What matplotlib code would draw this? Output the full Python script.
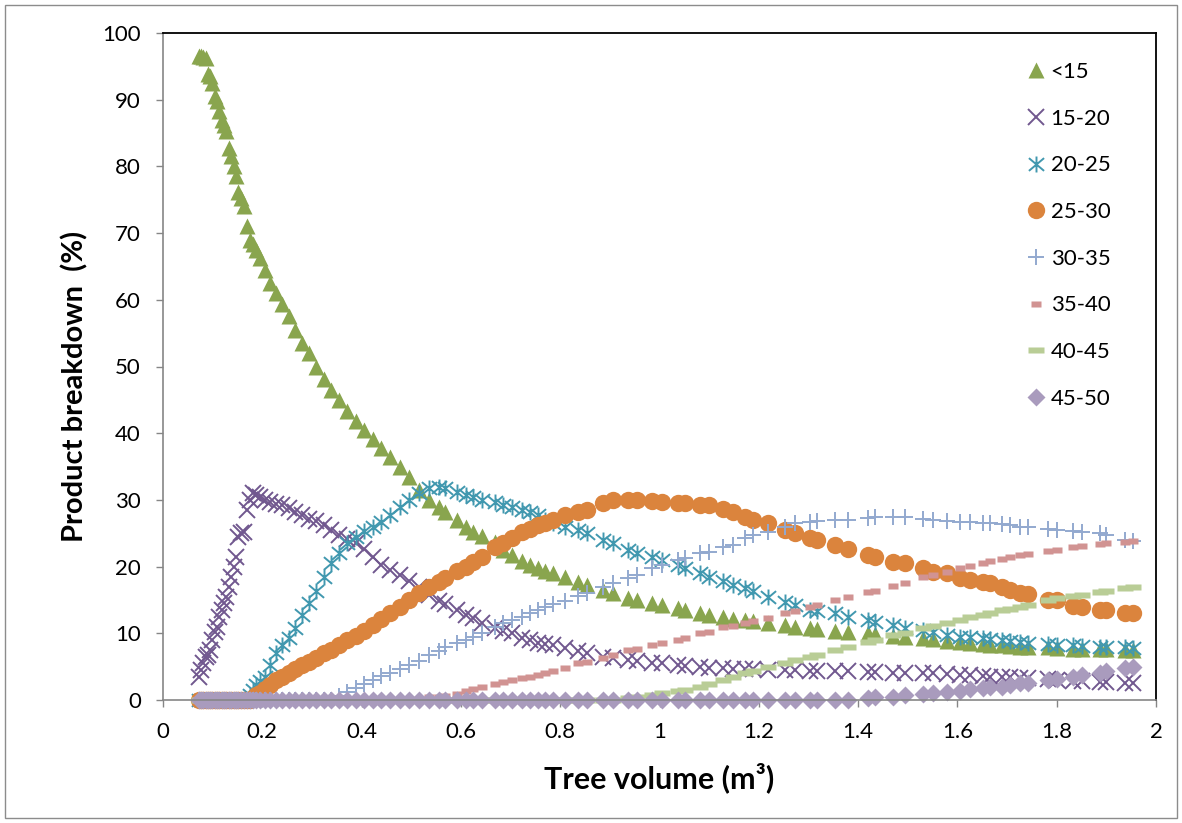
import matplotlib.pyplot as plt
from matplotlib.path import Path
from matplotlib.patches import Rectangle
from matplotlib.ticker import MultipleLocator, FormatStrFormatter

plt.rcParams['font.family'] = ['Lato', 'DejaVu Sans']

# tree volume (m3), shared by all size classes
x_vol = [
    0.072, 0.077, 0.081, 0.086, 0.090, 0.095, 0.099, 0.104, 0.108, 0.113,
    0.118, 0.122, 0.127, 0.132, 0.137, 0.142, 0.147, 0.152, 0.158, 0.163,
    0.169, 0.175, 0.181, 0.188, 0.195, 0.205, 0.216, 0.228, 0.240, 0.253,
    0.266, 0.280, 0.294, 0.309, 0.324, 0.339, 0.355, 0.371, 0.388, 0.405,
    0.422, 0.440, 0.458, 0.477, 0.496, 0.516, 0.536, 0.556, 0.568, 0.592,
    0.610, 0.625, 0.642, 0.668, 0.685, 0.703, 0.723, 0.740, 0.755, 0.770,
    0.786, 0.810, 0.836, 0.854, 0.886, 0.906, 0.937, 0.955, 0.985, 1.005,
    1.037, 1.051, 1.082, 1.100, 1.128, 1.148, 1.172, 1.188, 1.219, 1.253,
    1.273, 1.303, 1.317, 1.353, 1.380, 1.420, 1.434, 1.470, 1.494, 1.530,
    1.550, 1.579, 1.605, 1.625, 1.652, 1.666, 1.690, 1.706, 1.726, 1.742,
    1.782, 1.800, 1.833, 1.850, 1.887, 1.900, 1.938, 1.954]

lt15 = [
    96.5, 96.5, 96.4, 96.3, 93.8, 93.6, 92.5, 90.5, 89.8, 88.3,
    87.0, 86.2, 85.3, 82.8, 81.5, 80.0, 78.5, 76.2, 75.3, 74.0,
    71.0, 69.0, 68.3, 67.5, 66.2, 64.5, 62.5, 61.0, 59.3, 57.5,
    55.5, 53.5, 52.0, 50.0, 48.2, 46.5, 45.0, 43.3, 41.8, 40.5,
    39.2, 37.8, 36.5, 35.0, 33.5, 31.5, 30.0, 29.0, 28.2, 27.0,
    26.0, 25.2, 24.6, 23.7, 22.5, 21.7, 20.8, 20.2, 19.8, 19.4,
    19.0, 18.4, 17.7, 17.2, 16.5, 16.0, 15.3, 15.0, 14.5, 14.2,
    13.8, 13.5, 13.0, 12.7, 12.4, 12.2, 12.0, 11.8, 11.5, 11.2,
    11.0, 10.8, 10.7, 10.4, 10.2, 10.0, 9.9, 9.6, 9.5, 9.3,
    9.1, 8.9, 8.7, 8.5, 8.4, 8.3, 8.2, 8.1, 8.0, 8.0,
    7.9, 7.8, 7.7, 7.7, 7.6, 7.6, 7.5, 7.5]

p15_20 = [
    3.5, 4.5, 5.5, 6.5, 6.8, 7.5, 9.0, 10.2, 11.0, 12.5,
    13.5, 14.5, 15.5, 17.0, 18.5, 20.0, 21.5, 24.5, 25.0, 25.2,
    28.5, 30.0, 31.0, 30.8, 30.5, 30.0, 29.7, 29.4, 29.2, 28.8,
    28.2, 27.8, 27.2, 26.8, 26.3, 25.5, 24.8, 24.2, 23.5, 22.7,
    21.5, 20.3, 19.5, 18.8, 17.8, 17.0, 15.8, 14.8, 14.4, 13.5,
    12.8, 12.3, 11.5, 10.8, 10.4, 10.0, 9.3, 9.0, 8.6, 8.4,
    8.2, 7.8, 7.4, 7.0, 6.5, 6.3, 6.0, 5.9, 5.6, 5.5,
    5.2, 5.1, 4.9, 4.8, 4.8, 4.7, 4.6, 4.6, 4.5, 4.5,
    4.5, 4.4, 4.4, 4.3, 4.3, 4.2, 4.2, 4.1, 4.1, 4.0,
    4.0, 3.9, 3.8, 3.7, 3.6, 3.5, 3.4, 3.4, 3.3, 3.3,
    3.1, 3.0, 2.9, 2.8, 2.7, 2.7, 2.6, 2.5]

p20_25 = [
    0, 0, 0, 0, 0, 0, 0, 0, 0, 0,
    0, 0, 0, 0, 0, 0, 0, 0, 0, 0,
    0, 0.8, 1.5, 2.2, 2.8, 3.5, 5.2, 7.0, 8.3, 9.3,
    10.8, 12.7, 14.5, 16.3, 18.5, 20.5, 22.0, 23.5, 24.5, 25.3,
    26.0, 26.7, 27.8, 29.0, 30.0, 31.0, 31.8, 32.0, 31.8, 31.2,
    30.8, 30.4, 30.0, 29.7, 29.3, 29.0, 28.5, 28.2, 27.8, 27.0,
    26.5, 26.0, 25.5, 25.0, 24.0, 23.5, 22.5, 22.0, 21.4, 21.0,
    20.2, 19.8, 19.0, 18.5, 17.8, 17.3, 16.8, 16.3, 15.5, 14.7,
    14.2, 13.5, 13.3, 13.0, 12.5, 12.0, 11.7, 11.2, 10.8, 10.5,
    10.2, 9.7, 9.5, 9.4, 9.3, 9.2, 9.0, 8.9, 8.7, 8.6,
    8.4, 8.3, 8.2, 8.1, 8.0, 8.0, 7.9, 7.8]

p25_30 = [
    0, 0, 0, 0, 0, 0, 0, 0, 0, 0,
    0, 0, 0, 0, 0, 0, 0, 0, 0, 0,
    0, 0, 0.3, 0.7, 1.1, 1.6, 2.3, 3.0, 3.5, 4.0,
    4.6, 5.2, 5.7, 6.3, 7.0, 7.5, 8.3, 9.0, 9.6, 10.4,
    11.2, 12.2, 13.0, 14.0, 15.0, 16.0, 17.0, 17.7, 18.3, 19.4,
    20.0, 20.7, 21.4, 22.9, 23.6, 24.3, 25.2, 25.7, 26.2, 26.6,
    27.0, 27.7, 28.2, 28.5, 29.5, 30.0, 30.0, 30.0, 29.8, 29.7,
    29.6, 29.5, 29.3, 29.2, 28.6, 28.2, 27.5, 27.0, 26.5, 25.5,
    25.0, 24.3, 24.0, 23.2, 22.7, 21.7, 21.5, 20.7, 20.5, 19.8,
    19.2, 19.0, 18.3, 18.0, 17.7, 17.5, 16.9, 16.5, 16.0, 15.9,
    15.0, 15.0, 14.1, 14.0, 13.5, 13.5, 13.0, 13.0]

p30_35 = [
    0, 0, 0, 0, 0, 0, 0, 0, 0, 0,
    0, 0, 0, 0, 0, 0, 0, 0, 0, 0,
    0, 0, 0, 0, 0, 0, 0, 0, 0, 0,
    0, 0, 0, 0, 0, 0, 0.6, 1.2, 1.8, 2.4,
    3.0, 3.6, 4.1, 4.6, 5.2, 5.9, 6.8, 7.4, 8.0, 8.5,
    9.0, 9.5, 10.1, 11.0, 11.5, 12.0, 12.5, 13.0, 13.5, 14.0,
    14.4, 14.8, 15.6, 16.0, 17.0, 17.5, 18.3, 18.7, 19.8, 20.2,
    21.0, 21.3, 22.0, 22.2, 23.0, 23.3, 24.3, 24.7, 25.2, 26.0,
    26.5, 26.7, 26.8, 27.0, 27.0, 27.3, 27.4, 27.5, 27.5, 27.1,
    27.0, 26.8, 26.7, 26.7, 26.5, 26.5, 26.4, 26.2, 26.0, 25.9,
    25.6, 25.5, 25.3, 25.2, 25.0, 24.8, 24.0, 23.8]

p35_40 = [
    0, 0, 0, 0, 0, 0, 0, 0, 0, 0,
    0, 0, 0, 0, 0, 0, 0, 0, 0, 0,
    0, 0, 0, 0, 0, 0, 0, 0, 0, 0,
    0, 0, 0, 0, 0, 0, 0, 0, 0, 0,
    0, 0, 0, 0, 0, 0.2, 0.4, 0.5, 0.6, 0.9,
    1.3, 1.7, 2.0, 2.4, 2.7, 3.0, 3.3, 3.5, 3.7, 4.1,
    4.4, 4.8, 5.5, 5.7, 6.3, 6.7, 7.5, 7.6, 8.2, 8.5,
    9.0, 9.3, 10.0, 10.2, 10.9, 11.1, 11.5, 11.8, 12.3, 13.0,
    13.4, 14.0, 14.2, 15.0, 15.4, 16.2, 16.4, 17.1, 17.6, 18.4,
    18.8, 19.2, 19.8, 20.1, 20.6, 20.8, 21.2, 21.4, 21.7, 21.9,
    22.4, 22.5, 23.0, 23.1, 23.4, 23.5, 23.7, 23.8]

p40_45 = [
    0, 0, 0, 0, 0, 0, 0, 0, 0, 0,
    0, 0, 0, 0, 0, 0, 0, 0, 0, 0,
    0, 0, 0, 0, 0, 0, 0, 0, 0, 0,
    0, 0, 0, 0, 0, 0, 0, 0, 0, 0,
    0, 0, 0, 0, 0, 0, 0, 0, 0, 0,
    0, 0, 0, 0, 0, 0, 0, 0, 0, 0,
    0, 0, 0, 0, 0, 0, 0.3, 0.5, 0.8, 1.0,
    1.3, 1.5, 2.0, 2.4, 3.0, 3.5, 4.0, 4.4, 5.0, 5.5,
    6.0, 6.5, 6.8, 7.5, 8.0, 8.7, 9.0, 9.7, 10.1, 10.8,
    11.1, 11.6, 12.0, 12.4, 12.8, 13.0, 13.5, 13.7, 14.0, 14.2,
    15.0, 15.3, 15.6, 15.8, 16.2, 16.4, 16.8, 17.0]

p45_50 = [
    0, 0, 0, 0, 0, 0, 0, 0, 0, 0,
    0, 0, 0, 0, 0, 0, 0, 0, 0, 0,
    0, 0, 0, 0, 0, 0, 0, 0, 0, 0,
    0, 0, 0, 0, 0, 0, 0, 0, 0, 0,
    0, 0, 0, 0, 0, 0, 0, 0, 0, 0,
    0, 0, 0, 0, 0, 0, 0, 0, 0, 0,
    0, 0, 0, 0, 0, 0, 0, 0, 0, 0,
    0, 0, 0, 0, 0, 0, 0, 0, 0, 0,
    0, 0, 0, 0, 0, 0.3, 0.4, 0.5, 0.7, 0.9,
    1.0, 1.2, 1.4, 1.6, 1.8, 1.9, 2.0, 2.3, 2.5, 2.6,
    3.0, 3.1, 3.5, 3.7, 4.1, 4.3, 4.8, 5.0]

# Excel-like markers
star = Path([(0, -1), (0, 1), (-0.95, -0.8), (0.95, 0.8), (-0.95, 0.8), (0.95, -0.8)],
            [Path.MOVETO, Path.LINETO, Path.MOVETO, Path.LINETO, Path.MOVETO, Path.LINETO])
short_dash = [(-1, -0.5), (1, -0.5), (1, 0.5), (-1, 0.5)]
long_dash = [(-1, -0.3), (1, -0.3), (1, 0.3), (-1, 0.3)]

series = [
    ('<15', lt15, dict(marker='^', ms=12, color='#89A54E', mec='none')),
    ('15-20', p15_20, dict(marker='x', ms=11.5, mew=1.4, color='#71588F')),
    ('20-25', p20_25, dict(marker=star, ms=11.5, mew=1.4, color='#4198AF', mfc='none')),
    ('25-30', p25_30, dict(marker='o', ms=12.5, color='#DB843D', mec='none')),
    ('30-35', p30_35, dict(marker='+', ms=11.5, mew=1.4, color='#93A9CF')),
    ('35-40', p35_40, dict(marker=short_dash, ms=7.3, color='#D19392', mec='none')),
    ('40-45', p40_45, dict(marker=long_dash, ms=12.2, color='#B9CD96', mec='none')),
    ('45-50', p45_50, dict(marker='D', ms=8.7, color='#A99BBD', mec='none')),
]

fig = plt.figure(figsize=(11.82, 8.23), dpi=100)
ax = fig.add_axes([163 / 1182, 123 / 823, 993 / 1182, 667 / 823])

for label, yvals, kw in series:
    ax.plot(x_vol, yvals, linestyle='none', label=label, clip_on=False, **kw)

ax.set_xlim(0, 2)
ax.set_ylim(0, 100)
ax.xaxis.set_major_locator(MultipleLocator(0.2))
ax.yaxis.set_major_locator(MultipleLocator(10))
ax.xaxis.set_major_formatter(FormatStrFormatter('%g'))

for side in ['top', 'right']:
    ax.spines[side].set_color('black')
    ax.spines[side].set_linewidth(1.3)
for side in ['left', 'bottom']:
    ax.spines[side].set_color('#868686')
    ax.spines[side].set_linewidth(1.2)
ax.tick_params(direction='out', length=5, width=1, color='#868686',
               labelsize=16, pad=11)

ax.set_xlabel('Tree volume (m³)', fontsize=22, fontweight='bold')
ax.set_ylabel('Product breakdown  (%)', fontsize=21, fontweight='bold')
ax.xaxis.set_label_coords(0.5, -0.093)
ax.yaxis.set_label_coords(-0.075, 0.47)

ax.legend(loc='upper left', bbox_to_anchor=(1025 / 1182, 1 - 62 / 823),
          bbox_transform=fig.transFigure, frameon=False, fontsize=16,
          handlelength=1.0, handletextpad=0.15, labelspacing=1.2,
          borderpad=0, borderaxespad=0, numpoints=1)

fig.patches.append(Rectangle((5 / 1182, 5 / 823), 1172 / 1182, 813 / 823,
                             transform=fig.transFigure, fill=False,
                             edgecolor='#8c8c8c', linewidth=1))

fig.savefig('out.png', dpi=100)
